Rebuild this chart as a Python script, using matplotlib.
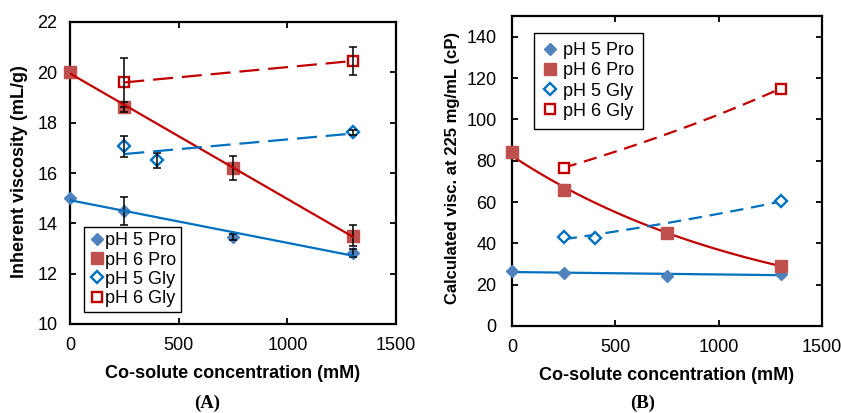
import numpy as np
import matplotlib
matplotlib.use("Agg")
import matplotlib.pyplot as plt

plt.rcParams['font.family'] = ['Liberation Sans', 'DejaVu Sans']

# Co-solute concentrations (mM)
conc_pro = [0, 250, 750, 1300]
conc_gly5 = [250, 400, 1300]
conc_gly6 = [250, 1300]

# Panel A: inherent viscosity (mL/g) with error bars
iv_ph5_pro = [15.0, 14.5, 13.45, 12.83]
iv_ph5_pro_err = [0.0, 0.55, 0.12, 0.15]
iv_ph6_pro = [20.02, 18.64, 16.19, 13.5]
iv_ph6_pro_err = [0.0, 0.2, 0.47, 0.42]
iv_ph5_gly = [17.07, 16.5, 17.62]
iv_ph5_gly_err = [0.42, 0.3, 0.1]
iv_ph6_gly = [19.6, 20.45]
iv_ph6_gly_err = [0.96, 0.55]

# Panel B: calculated viscosity at 225 mg/mL (cP)
cv_ph5_pro = [26.6, 25.8, 24.2, 25.2]
cv_ph6_pro = [84.1, 65.7, 44.9, 29.2]
cv_ph5_gly = [43.2, 42.7, 60.5]
cv_ph6_gly = [76.6, 114.9]

labels = ['pH 5 Pro', 'pH 6 Pro', 'pH 5 Gly', 'pH 6 Gly']

BLUE_FILL = '#4F81BD'
RED_FILL = '#C0504D'
BLUE_LINE = '#0070C0'
RED_LINE = '#C00000'

W, H = 841, 413
fig = plt.figure(figsize=(W / 100, H / 100), dpi=100)


def px_rect(l, t, r, b):
    return [l / W, 1 - b / H, (r - l) / W, (b - t) / H]


def lin_trend(x, y, xs):
    return np.polyval(np.polyfit(x, y, 1), xs)


def exp_trend(x, y, xs):
    return np.exp(np.polyval(np.polyfit(x, np.log(y), 1), xs))


def style_axes(ax, ypad):
    for s in ax.spines.values():
        s.set_linewidth(1.6)
        s.set_color('black')
    ax.tick_params(direction='in', length=4.5, width=1.3, top=True, right=True,
                   labelsize=13, colors='black')
    ax.tick_params(axis='y', pad=ypad)
    ax.tick_params(axis='x', pad=9)
    ax.set_xlim(0, 1500)
    ax.set_xticks([0, 500, 1000, 1500])


def draw_markers(ax, series):
    handles = []
    for (x, y, kw), lab in zip(series, labels):
        h, = ax.plot(x, y, linestyle='none', label=lab, clip_on=False, zorder=3, **kw)
        handles.append(h)
    return handles


mk = [
    dict(marker='D', ms=6.6, mfc=BLUE_FILL, mec=BLUE_FILL),
    dict(marker='s', ms=8.0, mfc=RED_FILL, mec=RED_FILL),
    dict(marker='D', ms=6.0, mfc='white', mec=BLUE_LINE, mew=1.7),
    dict(marker='s', ms=7.2, mfc='white', mec=RED_LINE, mew=1.7),
]

# ---------------- Panel A ----------------
axA = fig.add_axes(px_rect(70, 22, 396, 324))
style_axes(axA, 9)
axA.set_ylim(10, 22)
axA.set_yticks(np.arange(10, 23, 2))

hA = draw_markers(axA, [
    (conc_pro, iv_ph5_pro, mk[0]),
    (conc_pro, iv_ph6_pro, mk[1]),
    (conc_gly5, iv_ph5_gly, mk[2]),
    (conc_gly6, iv_ph6_gly, mk[3]),
])

for x, y, e in [(conc_pro, iv_ph5_pro, iv_ph5_pro_err),
                (conc_pro, iv_ph6_pro, iv_ph6_pro_err),
                (conc_gly5, iv_ph5_gly, iv_ph5_gly_err),
                (conc_gly6, iv_ph6_gly, iv_ph6_gly_err)]:
    xe = [xi for xi, ei in zip(x, e) if ei > 0]
    ye = [yi for yi, ei in zip(y, e) if ei > 0]
    ee = [ei for ei in e if ei > 0]
    axA.errorbar(xe, ye, yerr=ee, fmt='none', ecolor='black', elinewidth=1.1,
                 capsize=3, capthick=1.1, zorder=4)

xs = np.linspace(0, 1300, 100)
xg = np.linspace(250, 1300, 100)
axA.plot(xs, lin_trend(conc_pro, iv_ph5_pro, xs), color=BLUE_LINE, lw=1.6, zorder=5)
axA.plot(xs, lin_trend(conc_pro, iv_ph6_pro, xs), color=RED_LINE, lw=1.6, zorder=5)
axA.plot(xg, lin_trend(conc_gly5, iv_ph5_gly, xg), color=BLUE_LINE, lw=1.6,
         dashes=(9, 4), zorder=5)
axA.plot(xg, lin_trend(conc_gly6, iv_ph6_gly, xg), color=RED_LINE, lw=1.6,
         dashes=(9, 4), zorder=5)

legA = axA.legend(handles=hA, loc='upper left', bbox_to_anchor=(84 / W, 1 - 227 / H),
                  bbox_transform=fig.transFigure, borderaxespad=0, fontsize=13,
                  frameon=True, fancybox=False, edgecolor='black', framealpha=1,
                  borderpad=0.3, labelspacing=0.12, handlelength=0.8,
                  handletextpad=0.05)
legA.get_frame().set_linewidth(1.0)

# ---------------- Panel B ----------------
axB = fig.add_axes(px_rect(512, 16, 822, 326))
style_axes(axB, 11)
axB.set_ylim(0, 150)
axB.set_yticks(np.arange(0, 141, 20))

axB.plot(xs, exp_trend(conc_pro, cv_ph5_pro, xs), color=BLUE_LINE, lw=1.6, zorder=2)
axB.plot(xs, exp_trend(conc_pro, cv_ph6_pro, xs), color=RED_LINE, lw=1.6, zorder=2)
axB.plot(xg, exp_trend(conc_gly5, cv_ph5_gly, xg), color=BLUE_LINE, lw=1.6,
         dashes=(6, 3.5), zorder=2)
axB.plot(xg, exp_trend(conc_gly6, cv_ph6_gly, xg), color=RED_LINE, lw=1.6,
         dashes=(6, 3.5), zorder=2)

hB = draw_markers(axB, [
    (conc_pro, cv_ph5_pro, mk[0]),
    (conc_pro, cv_ph6_pro, mk[1]),
    (conc_gly5, cv_ph5_gly, mk[2]),
    (conc_gly6, cv_ph6_gly, mk[3]),
])

legB = axB.legend(handles=hB, loc='upper left', bbox_to_anchor=(534 / W, 1 - 33 / H),
                  bbox_transform=fig.transFigure, borderaxespad=0, fontsize=13,
                  frameon=True, fancybox=False, edgecolor='black', framealpha=1,
                  borderpad=0.5, labelspacing=0.18, handlelength=0.8,
                  handletextpad=0.3)
legB.get_frame().set_linewidth(1.0)

# Axis titles and panel tags
fig.text(233 / W, 1 - 373 / H, 'Co-solute concentration (mM)', ha='center', va='center',
         fontsize=13, fontweight='bold')
fig.text(667 / W, 1 - 375 / H, 'Co-solute concentration (mM)', ha='center', va='center',
         fontsize=13, fontweight='bold')
fig.text(20 / W, 1 - 172 / H, 'Inherent viscosity (mL/g)', ha='center', va='center',
         rotation=90, fontsize=13, fontweight='bold')
fig.text(453 / W, 1 - 168 / H, 'Calculated visc. at 225 mg/mL (cP)', ha='center',
         va='center', rotation=90, fontsize=12, fontweight='bold')
fig.text(207 / W, 1 - 403 / H, '(A)', ha='center', va='center', fontsize=13.5,
         fontweight='bold', family=['Liberation Serif', 'DejaVu Serif'])
fig.text(643 / W, 1 - 403 / H, '(B)', ha='center', va='center', fontsize=13.5,
         fontweight='bold', family=['Liberation Serif', 'DejaVu Serif'])

fig.savefig('out.png', dpi=100)
